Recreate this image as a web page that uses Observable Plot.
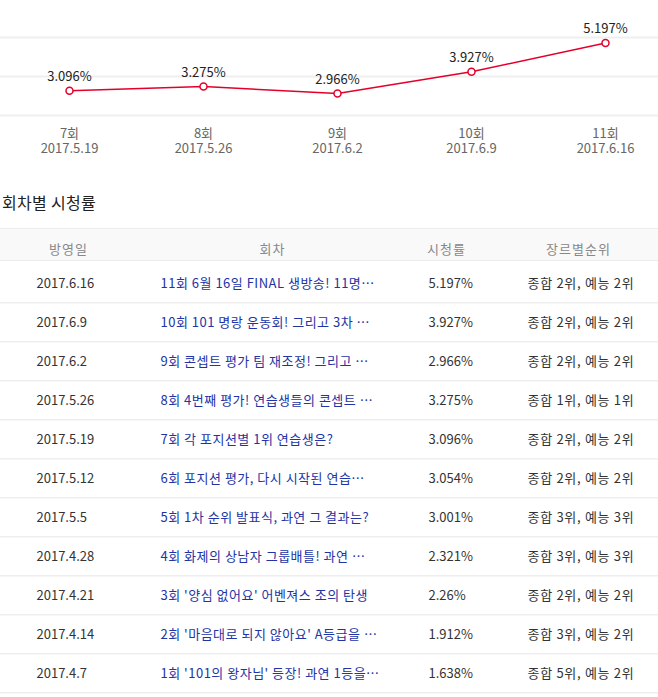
<!DOCTYPE html>
<html>
<head>
<meta charset="utf-8">
<script src="https://cdn.jsdelivr.net/npm/d3@7"></script>
<script src="https://cdn.jsdelivr.net/npm/@observablehq/plot@0.6"></script>
<style>
  html, body { margin: 0; padding: 0; background: #fff; }
  body { width: 658px; font-family: "Noto Sans CJK KR", "Noto Sans", sans-serif; }
  #title { height: 58px; box-sizing: border-box; padding: 22px 0 0 2px; font-size: 16px; line-height: 20px; color: #222; letter-spacing: 0.3px; }
</style>
</head>
<body>
<div id="chart"></div>
<div id="title">회차별 시청률</div>
<div id="table"></div>
<script>
// ---- data ----
const episodes = ["11회", "10회", "9회", "8회", "7회", "6회", "5회", "4회", "3회", "2회", "1회"];
const airDates = ["2017.6.16", "2017.6.9", "2017.6.2", "2017.5.26", "2017.5.19", "2017.5.12", "2017.5.5", "2017.4.28", "2017.4.21", "2017.4.14", "2017.4.7"];
const episodeTitles = [
  "6월 16일 FINAL 생방송! 11명…",
  "101 명랑 운동회! 그리고 3차 …",
  "콘셉트 평가 팀 재조정! 그리고 …",
  "4번째 평가! 연습생들의 콘셉트 …",
  "각 포지션별 1위 연습생은?",
  "포지션 평가, 다시 시작된 연습…",
  "1차 순위 발표식, 과연 그 결과는?",
  "화제의 상남자 그룹배틀! 과연 …",
  "'양심 없어요' 어벤져스 조의 탄생",
  "'마음대로 되지 않아요' A등급을 …",
  "'101의 왕자님' 등장! 과연 1등을…"
];
const ratings = [5.197, 3.927, 2.966, 3.275, 3.096, 3.054, 3.001, 2.321, 2.26, 1.912, 1.638];
const overallRank = [2, 2, 2, 1, 2, 2, 3, 3, 2, 3, 5];
const genreRank = [2, 2, 2, 1, 2, 2, 3, 3, 2, 2, 2];
const headers = ["방영일", "회차", "시청률", "장르별순위"];
const chartCount = 5;            // latest five episodes shown in the line chart
const gridValues = [2, 3.72, 5.44];

// ---- derived tables ----
const rows = episodes.map((ep, i) => ({
  ep, date: airDates[i], title: ep + " " + episodeTitles[i],
  rating: ratings[i], rank: `종합 ${overallRank[i]}위, 예능 ${genreRank[i]}위`
}));
const chartData = rows.slice(0, chartCount).reverse();
const dateOf = ep => rows.find(r => r.ep === ep).date;

const FONT = "'Noto Sans CJK KR', 'Noto Sans', sans-serif";
const RED = "#e4002b";

// ---- line chart ----
const chart = Plot.plot({
  width: 658, height: 170,
  marginTop: 37, marginBottom: 55, marginLeft: 0, marginRight: 0,
  style: { fontFamily: FONT, background: "white", overflow: "visible" },
  x: { type: "point", domain: chartData.map(d => d.ep), range: [68, 606], padding: 0 },
  y: { domain: [gridValues[0], gridValues[gridValues.length - 1]], axis: null },
  marks: [
    Plot.ruleY(gridValues, { stroke: "#efefef", strokeWidth: 2 }),
    Plot.line(chartData, { x: "ep", y: "rating", stroke: RED, strokeWidth: 1.5 }),
    Plot.dot(chartData, { x: "ep", y: "rating", r: 3.5, fill: "white", stroke: RED, strokeWidth: 1.5 }),
    Plot.text(chartData, { x: "ep", y: "rating", text: d => d.rating + "%", dy: -14, fontSize: 13, fill: "#222" }),
    Plot.axisX({ tickSize: 0, tickPadding: 13, fontSize: 13, fill: "#666", label: null }),
    Plot.axisX({ tickSize: 0, tickPadding: 28, fontSize: 13, fill: "#666", label: null, tickFormat: dateOf })
  ]
});
document.getElementById("chart").appendChild(chart);

// ---- table ----
const headerH = 33, rowH = 39.4;
const tableH = 469;
const colOffsets = { date: 36, title: 160, rating: 428, rank: 527 };
const headerCenters = [68, 272, 446, 578];

const table = Plot.plot({
  width: 658, height: tableH,
  marginTop: headerH, marginBottom: tableH - headerH - rowH * rows.length,
  marginLeft: 0, marginRight: 0,
  style: {
    fontFamily: FONT, overflow: "visible",
    background: "linear-gradient(to bottom, #ececec 0 1px, #f9f9f9 1px 32px, #ececec 32px 33px, #fff 33px)"
  },
  x: { axis: null },
  y: { type: "band", domain: rows.map(d => d.date), padding: 0, axis: null },
  marks: [
    Plot.ruleY(rows, { y: "date", dy: rowH / 2, stroke: "#eeeeee", strokeWidth: 1.5 }),
    ...headers.map((h, i) => Plot.text([h], {
      text: d => d, frameAnchor: "top-left", dx: headerCenters[i], dy: -headerH / 2,
      textAnchor: "middle", fontSize: 13, fill: "#888"
    })),
    Plot.text(rows, { y: "date", text: "date", frameAnchor: "left", dx: colOffsets.date, dy: 1, textAnchor: "start", fontSize: 13, fill: "#333" }),
    Plot.text(rows, { y: "date", text: "title", frameAnchor: "left", dx: colOffsets.title, dy: 1, textAnchor: "start", fontSize: 13, fill: "#2233a6" }),
    Plot.text(rows, { y: "date", text: d => d.rating + "%", frameAnchor: "left", dx: colOffsets.rating, dy: 1, textAnchor: "start", fontSize: 13, fill: "#333" }),
    Plot.text(rows, { y: "date", text: "rank", frameAnchor: "left", dx: colOffsets.rank, dy: 1, textAnchor: "start", fontSize: 13, fill: "#333" })
  ]
});
// slightly wider tracking for Korean-heavy columns to match the reference's font metrics
const textGroups = table.querySelectorAll('g[aria-label="text"]');
textGroups.forEach((g, i) => {
  if (i === 0 || i === 1 || i === 2 || i === 3) g.setAttribute("letter-spacing", "1");
  if (i === 5) g.setAttribute("letter-spacing", "0.5");
  if (i === 7) g.setAttribute("letter-spacing", "0.7");
});
document.getElementById("table").appendChild(table);
</script>
</body>
</html>
